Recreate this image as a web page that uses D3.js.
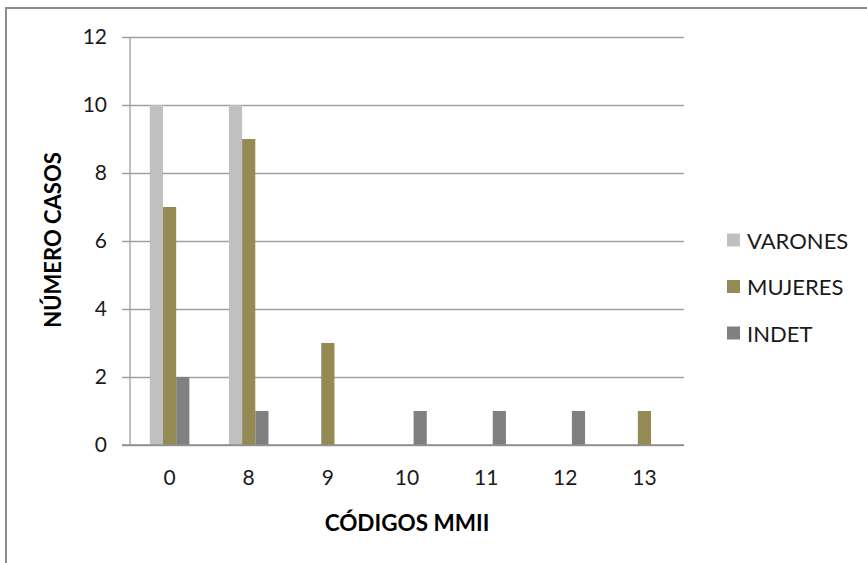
<!DOCTYPE html>
<html><head><meta charset="utf-8">
<script src="https://cdn.jsdelivr.net/npm/d3@7"></script>
<style>body{margin:0;background:#fff}svg{display:block}text{font-family:Lato,"Open Sans",sans-serif}</style>
</head><body>
<svg id="c" width="867" height="563"></svg>
<script>
const categories = ["0","8","9","10","11","12","13"];
const seriesNames = ["VARONES","MUJERES","INDET"];
const varones = [10,10,0,0,0,0,0];
const mujeres = [7,9,3,0,0,0,1];
const indet = [2,1,0,1,1,1,0];
const yTicks = [0,2,4,6,8,10,12];
const colors = ["#C0C0C0","#948A54","#808080"];
const seriesValues = [varones, mujeres, indet];

const svg = d3.select("#c");
const L=130, R=684, T=37, B=445;

// outer frame
svg.append("rect").attr("x",6).attr("y",8).attr("width",900).attr("height",600)
  .attr("fill","none").attr("stroke","#8c8c8c").attr("stroke-width",2);

const y = d3.scaleLinear().domain([0,12]).range([B,T]);
const x = d3.scaleBand().domain(categories).range([L,R]).padding(0);
const x1 = d3.scaleBand().domain(seriesNames).range([0,x.bandwidth()]).paddingInner(0).paddingOuter(1.5);

// gridlines + tick marks
const yAxis = d3.axisLeft(y).tickValues(yTicks).tickSize(-(R-L)-8).tickSizeOuter(0).tickFormat(d=>d);
const gy = svg.append("g").attr("transform",`translate(${L},0)`).call(yAxis);
gy.select(".domain").remove();
gy.selectAll(".tick line").attr("x1",-8).attr("x2",R-L).attr("stroke","#a0a0a0").attr("stroke-width",1.3);
gy.selectAll(".tick text").attr("x",-23).attr("font-size",21).attr("fill","#1a1a1a").attr("font-family","Lato");
// y axis line
svg.append("line").attr("x1",L).attr("x2",L).attr("y1",T).attr("y2",B).attr("stroke","#a0a0a0").attr("stroke-width",1.3);

// bars
const groups = svg.append("g");
seriesNames.forEach((s,si)=>{
  groups.selectAll(null).data(categories.map((c,i)=>({c,v:seriesValues[si][i]})).filter(d=>d.v>0))
    .enter().append("rect")
    .attr("x",d=>x(d.c)+x1(s)).attr("width",x1.bandwidth())
    .attr("y",d=>y(d.v)).attr("height",d=>y(0)-y(d.v))
    .attr("fill",colors[si]);
});

// baseline
svg.append("line").attr("x1",L-8).attr("x2",R).attr("y1",B).attr("y2",B).attr("stroke","#8c8c8c").attr("stroke-width",1.5);

// x axis labels
const xAxis = d3.axisBottom(x).tickSize(0).tickSizeOuter(0);
const gx = svg.append("g").attr("transform",`translate(0,${B})`).call(xAxis);
gx.select(".domain").remove();
gx.selectAll(".tick text").attr("y",35).attr("dy",0).attr("dominant-baseline","middle")
  .attr("font-size",21).attr("fill","#1a1a1a").attr("font-family","Lato");

// axis titles
svg.append("text").attr("x",407).attr("y",522).attr("text-anchor","middle").attr("dominant-baseline","central")
  .attr("font-size",22.5).attr("font-weight","bold").attr("fill","#000").text("CÓDIGOS MMII");
svg.append("text").attr("transform","translate(52,240) rotate(-90)").attr("text-anchor","middle").attr("dominant-baseline","central")
  .attr("font-size",22).attr("font-weight","bold").attr("fill","#000").text("NÚMERO CASOS");

// legend
const leg = svg.append("g");
seriesNames.forEach((s,i)=>{
  const cy = 240 + i*46.5;
  leg.append("rect").attr("x",727).attr("y",cy-6.5).attr("width",13).attr("height",13).attr("fill",colors[i]);
  leg.append("text").attr("x",747).attr("y",cy).attr("dominant-baseline","central")
    .attr("font-size",22).attr("fill","#1a1a1a").text(s);
});
</script>
</body></html>
